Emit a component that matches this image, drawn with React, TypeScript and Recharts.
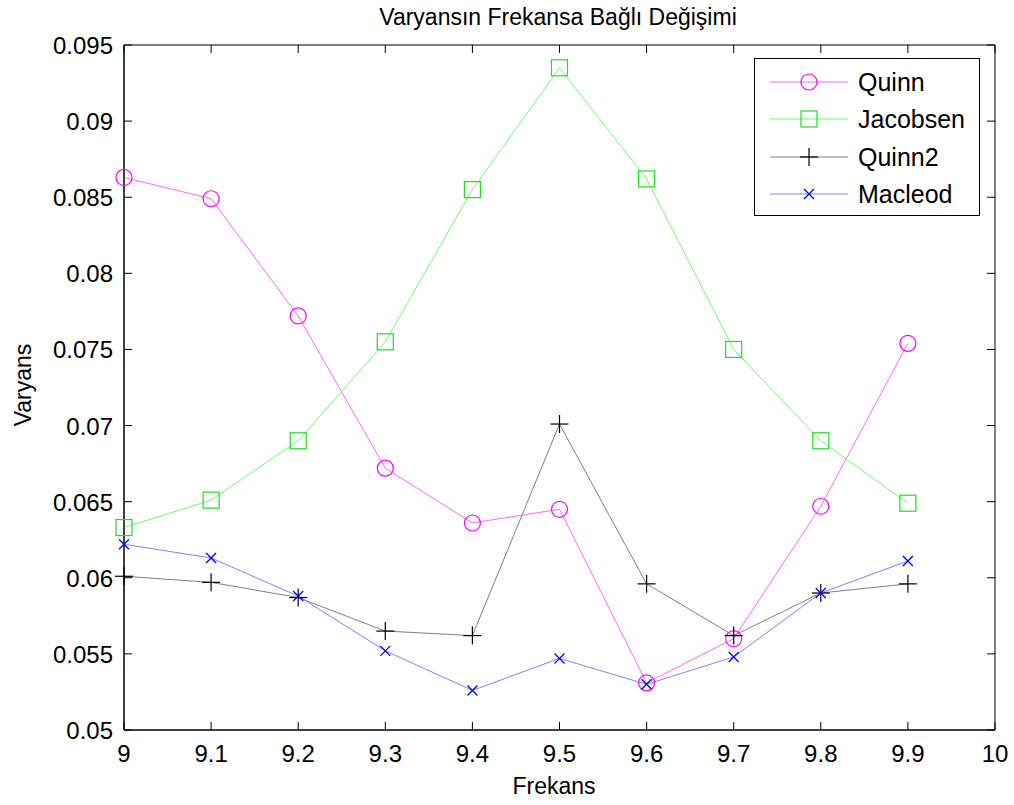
import { LineChart, Line, XAxis, YAxis, Legend, ReferenceArea } from "recharts";

const frekans = [9, 9.1, 9.2, 9.3, 9.4, 9.5, 9.6, 9.7, 9.8, 9.9];
const quinn = [0.0863, 0.0849, 0.0772, 0.0672, 0.0636, 0.0645, 0.0531, 0.056, 0.0647, 0.0754];
const jacobsen = [0.0633, 0.0651, 0.069, 0.0755, 0.0855, 0.0935, 0.0862, 0.075, 0.069, 0.0649];
const quinn2 = [0.0601, 0.0597, 0.0587, 0.0565, 0.0562, 0.0701, 0.0596, 0.0562, 0.059, 0.0596];
const macleod = [0.0622, 0.0613, 0.0588, 0.0552, 0.0526, 0.0547, 0.053, 0.0548, 0.059, 0.0611];

const xTicks = [9, 9.1, 9.2, 9.3, 9.4, 9.5, 9.6, 9.7, 9.8, 9.9, 10];
const yTicks = [0.05, 0.055, 0.06, 0.065, 0.07, 0.075, 0.08, 0.085, 0.09, 0.095];

const data = frekans.map((f, i) => ({
  f,
  quinn: quinn[i],
  jacobsen: jacobsen[i],
  quinn2: quinn2[i],
  macleod: macleod[i],
}));

const W = 1014;
const H = 805;
const TOP = 45;
const BOTTOM = 730;
const LEFT = 124;
const RIGHT = 995;
const FONT = "'Liberation Sans', Arial, sans-serif";

const XTick = ({ x, payload }: any) => (
  <g>
    <line x1={x} x2={x} y1={BOTTOM} y2={BOTTOM - 8} stroke="#000" />
    <line x1={x} x2={x} y1={TOP} y2={TOP + 8} stroke="#000" />
    <text x={x} y={BOTTOM + 32} textAnchor="middle" fontSize={24} fontFamily={FONT} fill="#000">
      {payload.value}
    </text>
  </g>
);

const YTick = ({ y, payload }: any) => (
  <g>
    <line x1={LEFT} x2={LEFT + 8} y1={y} y2={y} stroke="#000" />
    <line x1={RIGHT} x2={RIGHT - 8} y1={y} y2={y} stroke="#000" />
    <text x={LEFT - 11} y={y + 9} textAnchor="end" fontSize={24} fontFamily={FONT} fill="#000">
      {String(payload.value)}
    </text>
  </g>
);

const Circle = ({ cx, cy }: any) => (
  <circle cx={cx} cy={cy} r={8} fill="none" stroke="#ff00ff" strokeWidth={1.2} />
);
const Square = ({ cx, cy }: any) => (
  <rect x={cx - 8} y={cy - 8} width={16} height={16} fill="none" stroke="#22dd22" strokeWidth={1.2} />
);
const Plus = ({ cx, cy }: any) => (
  <g stroke="#000" strokeWidth={1.2}>
    <line x1={cx - 9} x2={cx + 9} y1={cy} y2={cy} />
    <line x1={cx} x2={cx} y1={cy - 9} y2={cy + 9} />
  </g>
);
const Cross = ({ cx, cy }: any) => (
  <g stroke="#0000ff" strokeWidth={1.3}>
    <line x1={cx - 5} x2={cx + 5} y1={cy - 5} y2={cy + 5} />
    <line x1={cx - 5} x2={cx + 5} y1={cy + 5} y2={cy - 5} />
  </g>
);

const series = [
  { key: "quinn", name: "Quinn", line: "#ff66ff", Marker: Circle },
  { key: "jacobsen", name: "Jacobsen", line: "#66ff66", Marker: Square },
  { key: "quinn2", name: "Quinn2", line: "#808080", Marker: Plus },
  { key: "macleod", name: "Macleod", line: "#8080ff", Marker: Cross },
];

const LegendBox = () => (
  <div
    style={{
      width: 226,
      height: 158,
      border: "1px solid #000",
      background: "#fff",
      boxSizing: "border-box",
      paddingTop: 4,
    }}
  >
    {series.map((s) => (
      <div key={s.key} style={{ display: "flex", alignItems: "center", height: 37.5 }}>
        <svg width={103} height={30} style={{ flex: "none" }}>
          <line x1={15} x2={93} y1={15} y2={15} stroke={s.line} />
          <s.Marker cx={54} cy={15} />
        </svg>
        <span style={{ fontFamily: FONT, fontSize: 25, color: "#000", lineHeight: "30px" }}>{s.name}</span>
      </div>
    ))}
  </div>
);

export default function App() {
  return (
    <div style={{ position: "absolute", left: 0, top: 0, width: W, height: H, background: "#fff" }}>
      <LineChart
        width={W}
        height={H}
        data={data}
        margin={{ top: TOP, right: W - RIGHT, bottom: 30, left: 0 }}
      >
        <XAxis
          dataKey="f"
          type="number"
          domain={[9, 10]}
          ticks={xTicks}
          height={H - BOTTOM - 30}
          axisLine={{ stroke: "#000" }}
          tickLine={false}
          tick={<XTick />}
        />
        <YAxis
          type="number"
          domain={[0.05, 0.095]}
          ticks={yTicks}
          width={LEFT}
          axisLine={{ stroke: "#000" }}
          tickLine={false}
          tick={<YTick />}
        />
        <ReferenceArea x1={9} x2={10} y1={0.05} y2={0.095} fill="none" stroke="#000" strokeWidth={1} />
        <Legend
          layout="horizontal"
          verticalAlign="middle"
          align="center"
          content={<LegendBox />}
          wrapperStyle={{ position: "absolute", left: 754, top: 58, width: 226 }}
        />
        {series.map((s) => (
          <Line
            key={s.key}
            dataKey={s.key}
            name={s.name}
            stroke={s.line}
            strokeWidth={1}
            dot={<s.Marker />}
            activeDot={false}
            isAnimationActive={false}
          />
        ))}
        <text x={558} y={25} textAnchor="middle" fontFamily={FONT} fontSize={23} fill="#000">
          Varyansın Frekansa Bağlı Değişimi
        </text>
        <text x={554} y={794} textAnchor="middle" fontFamily={FONT} fontSize={23} fill="#000">
          Frekans
        </text>
        <text
          x={0}
          y={0}
          transform="translate(31, 385) rotate(-90)"
          textAnchor="middle"
          fontFamily={FONT}
          fontSize={23}
          fill="#000"
        >
          Varyans
        </text>
      </LineChart>
    </div>
  );
}
